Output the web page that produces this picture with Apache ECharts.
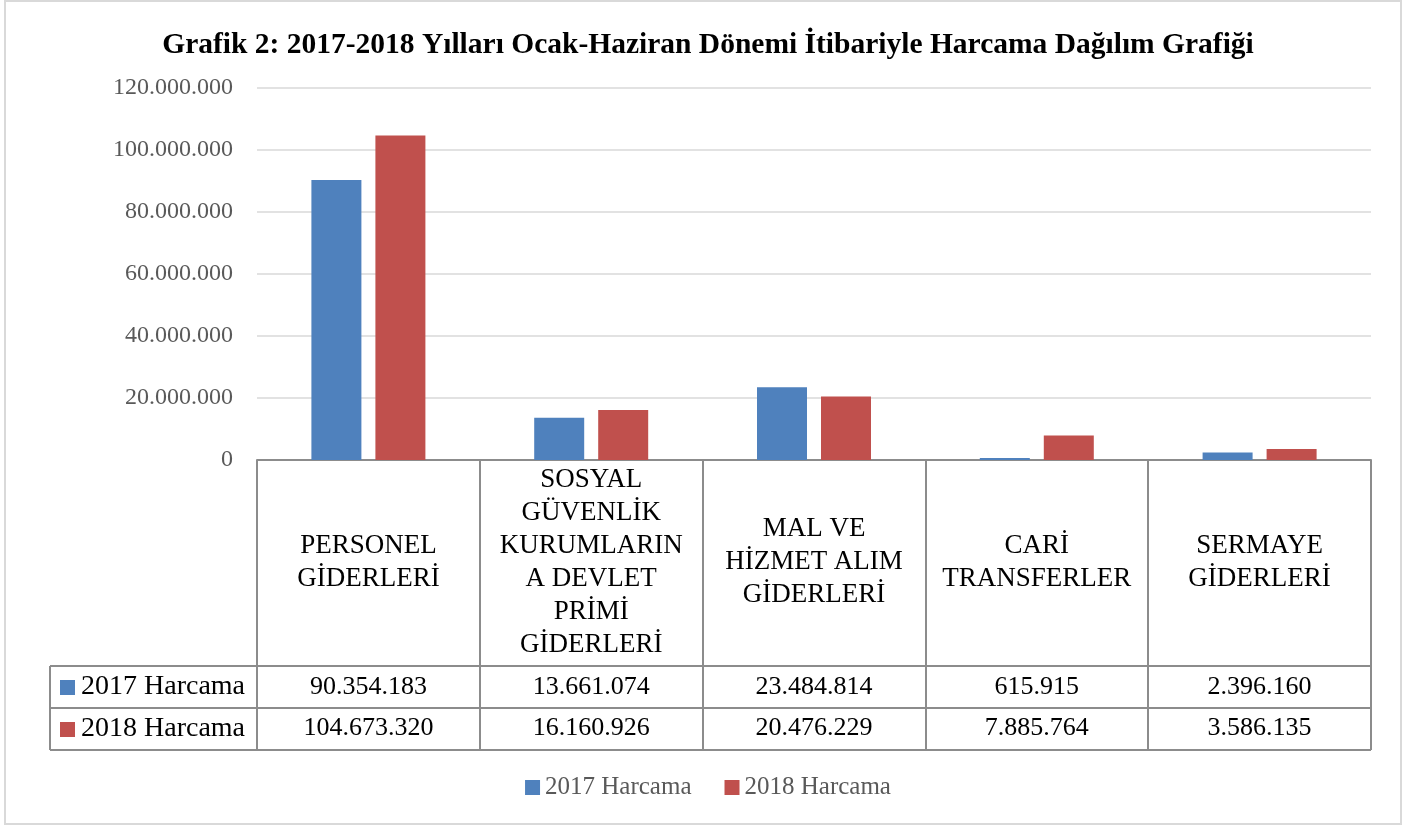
<!DOCTYPE html>
<html><head><meta charset="utf-8">
<script src="https://cdn.jsdelivr.net/npm/echarts@6/dist/echarts.min.js"></script>
<style>html,body{margin:0;padding:0;background:#fff}#c{width:1416px;height:826px}</style>
</head><body><div id="c"></div>
<script>
const categories = ['PERSONEL\nGİDERLERİ','SOSYAL\nGÜVENLİK\nKURUMLARIN\nA DEVLET\nPRİMİ\nGİDERLERİ','MAL VE\nHİZMET ALIM\nGİDERLERİ','CARİ\nTRANSFERLER','SERMAYE\nGİDERLERİ'];
const seriesNames = ['2017 Harcama','2018 Harcama'];
const values2017 = [90354183, 13661074, 23484814, 615915, 2396160];
const values2018 = [104673320, 16160926, 20476229, 7885764, 3586135];
const yTicks = [0, 20000000, 40000000, 60000000, 80000000, 100000000, 120000000];
const colors = ['#4F81BD','#C0504D'];
const FONT = 'Liberation Serif';
const fmt = v => String(v).replace(/\B(?=(\d{3})+(?!\d))/g, '.');

const chart = echarts.init(document.getElementById('c'), null, {renderer:'canvas'});
const GRID = {left:257, right:45, top:88, bottom:366};
const tableLine = '#8c8c8c';
const option = {
  animation:false,
  textStyle:{fontFamily:FONT},
  title:{text:'Grafik 2: 2017-2018 Yılları Ocak-Haziran Dönemi İtibariyle Harcama Dağılım Grafiği', left:'center', top:25,
    textStyle:{fontFamily:FONT, fontWeight:'bold', fontSize:29.5, color:'#000'}},
  legend:{top:770, left:'center', itemWidth:15, itemHeight:15, itemGap:33, icon:'rect',
    textStyle:{fontFamily:FONT, fontSize:25, color:'#595959'}, data:seriesNames},
  grid:GRID,
  xAxis:[
    {type:'category', data:categories, position:'bottom',
     axisLine:{show:true, lineStyle:{color:tableLine, width:2}},
     axisTick:{show:true, alignWithLabel:false, length:290, lineStyle:{color:tableLine, width:2}},
     axisLabel:{interval:0, margin:102, verticalAlign:'middle', lineHeight:33, fontFamily:FONT, fontSize:27, color:'#000', align:'center'}},
    {type:'category', data:categories, position:'bottom', gridIndex:0,
     axisLine:{show:false}, axisTick:{show:false},
     axisLabel:{interval:0, margin:227, verticalAlign:'middle', fontFamily:FONT, fontSize:26, color:'#000',
       formatter:(v,i)=>fmt(values2017[i])}},
    {type:'category', data:categories, position:'bottom', gridIndex:0,
     axisLine:{show:false}, axisTick:{show:false},
     axisLabel:{interval:0, margin:268, verticalAlign:'middle', fontFamily:FONT, fontSize:26, color:'#000',
       formatter:(v,i)=>fmt(values2018[i])}}
  ],
  yAxis:{type:'value', min:yTicks[0], max:yTicks[yTicks.length-1], interval:yTicks[1]-yTicks[0],
    axisLine:{show:false}, axisTick:{show:false},
    splitLine:{lineStyle:{color:'#d9d9d9', width:1.5}},
    axisLabel:{margin:24, fontFamily:FONT, fontSize:24, color:'#595959', formatter:v=>fmt(v)}},
  series:[
    {name:seriesNames[0], type:'bar', data:values2017, barWidth:50, barGap:'28%', itemStyle:{color:colors[0]}},
    {name:seriesNames[1], type:'bar', data:values2018, barWidth:50, itemStyle:{color:colors[1]}}
  ]
};
chart.setOption(option);

// table decorations computed from axis scales
const p0 = chart.convertToPixel({xAxisIndex:0}, 0);
const step = chart.convertToPixel({xAxisIndex:0},1) - p0;
const left = p0 - step/2;
const right = left + step*categories.length;
const y0 = chart.convertToPixel({yAxisIndex:0}, 0);
const r1 = y0 + 206, r2 = y0 + 248, r3 = y0 + 290;
const tableLeft = 50;
const ls = {stroke:tableLine, lineWidth:2};
const g = [
  {type:'rect', shape:{x:5,y:1,width:1396,height:823}, style:{fill:'none', stroke:'#d9d9d9', lineWidth:2}, silent:true},
  {type:'line', shape:{x1:tableLeft,y1:r1,x2:right,y2:r1}, style:ls},
  {type:'line', shape:{x1:tableLeft,y1:r2,x2:right,y2:r2}, style:ls},
  {type:'line', shape:{x1:tableLeft,y1:r3,x2:right,y2:r3}, style:ls},
  {type:'line', shape:{x1:tableLeft,y1:r1,x2:tableLeft,y2:r3}, style:ls},
];
seriesNames.forEach((n,i)=>{
  const cy = (i===0 ? (r1+r2)/2 : (r2+r3)/2);
  g.push({type:'rect', shape:{x:tableLeft+10, y:cy-7, width:15, height:15}, style:{fill:colors[i]}});
  g.push({type:'text', x:tableLeft+31, y:cy, style:{text:n, fontFamily:FONT, fontSize:28, fill:'#000', verticalAlign:'middle', align:'left'}});
});
chart.setOption({graphic:g});
</script></body></html>
